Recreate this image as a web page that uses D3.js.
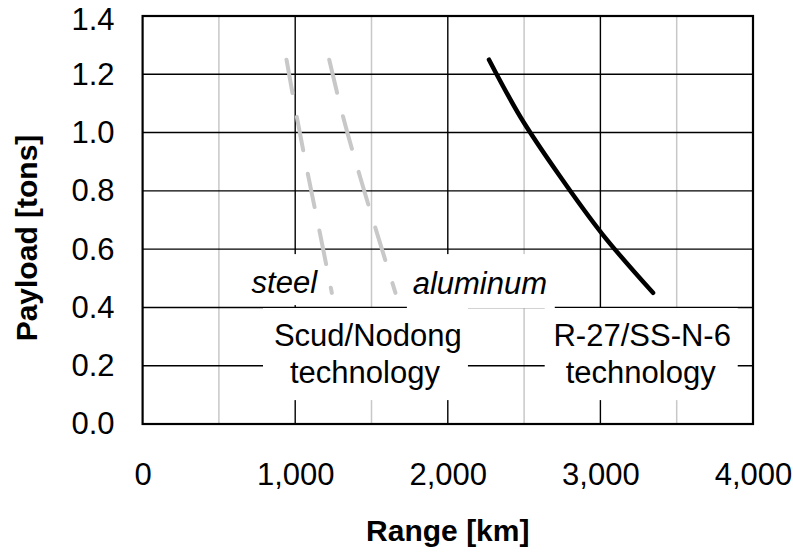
<!DOCTYPE html>
<html>
<head>
<meta charset="utf-8">
<script src="https://cdn.jsdelivr.net/npm/d3@7.9.0/dist/d3.min.js"></script>
<style>
  body { margin: 0; background: #fff; }
  text { font-family: "Liberation Sans", Arial, sans-serif; fill: #000; }
</style>
</head>
<body>
<div id="chart"></div>
<script>
// payload levels [tons] shared by all three curves
const payload = [1.25, 1.05, 0.85, 0.65, 0.45];
// range [km] at each payload
const steelRange = [943, 1012, 1086, 1164, 1240];
const aluminumRange = [1223, 1316, 1424, 1539, 1657];
const r27Range = [2270, 2480, 2735, 3015, 3345];

const xTicks = [0, 1000, 2000, 3000, 4000];
const xMinor = [500, 1500, 2500, 3500];
const yTicks = [0, 0.2, 0.4, 0.6, 0.8, 1.0, 1.2, 1.4];

const width = 793;
const height = 558;
const margin = { top: 16, right: 40, bottom: 134, left: 142.6 };

const svg = d3.select("#chart")
  .append("svg")
  .attr("width", width)
  .attr("height", height);

const x = d3.scaleLinear()
  .domain([0, 4000])
  .range([margin.left, width - margin.right]);

const y = d3.scaleLinear()
  .domain([0, 1.4])
  .range([height - margin.bottom, margin.top]);

// grid: light vertical lines at the half thousands, black ones elsewhere
svg.append("g")
  .selectAll("line")
  .data(xMinor)
  .join("line")
  .attr("x1", d => x(d)).attr("x2", d => x(d))
  .attr("y1", y(0)).attr("y2", y(1.4))
  .attr("stroke", "#c8c8c8")
  .attr("stroke-width", 1.5);

svg.append("g")
  .selectAll("line")
  .data(xTicks.slice(1, -1))
  .join("line")
  .attr("x1", d => x(d)).attr("x2", d => x(d))
  .attr("y1", y(0)).attr("y2", y(1.4))
  .attr("stroke", "#000")
  .attr("stroke-width", 1.4);

svg.append("g")
  .selectAll("line")
  .data(yTicks.slice(1, -1))
  .join("line")
  .attr("x1", x(0)).attr("x2", x(4000))
  .attr("y1", d => y(d)).attr("y2", d => y(d))
  .attr("stroke", "#000")
  .attr("stroke-width", 1.4);

svg.append("rect")
  .attr("x", x(0))
  .attr("y", y(1.4))
  .attr("width", x(4000) - x(0))
  .attr("height", y(0) - y(1.4))
  .attr("fill", "none")
  .attr("stroke", "#000")
  .attr("stroke-width", 2.2);

// label boxes (white, they hide the grid behind them), in data units
const boxes = [
  { x0: 658, x1: 1201, y0: 0.408, y1: 0.583 },   // steel
  { x0: 1732, x1: 2701, y0: 0.397, y1: 0.583 },  // aluminum
  { x0: 789, x1: 2132, y0: 0.082, y1: 0.398 },   // Scud/Nodong
  { x0: 2635, x1: 3900, y0: 0.082, y1: 0.398 }   // R-27
];

svg.append("g")
  .selectAll("rect")
  .data(boxes)
  .join("rect")
  .attr("x", d => x(d.x0))
  .attr("y", d => y(d.y1))
  .attr("width", d => x(d.x1) - x(d.x0))
  .attr("height", d => y(d.y0) - y(d.y1))
  .attr("fill", "#fff");

// curves
const line = d3.line()
  .x(d => x(d[0]))
  .y(d => y(d[1]))
  .curve(d3.curveCatmullRom.alpha(0.5));

const series = [
  { range: steelRange, color: "#c8c8c8", width: 4, dash: "34 24" },
  { range: aluminumRange, color: "#c8c8c8", width: 4, dash: "34 24" },
  { range: r27Range, color: "#000", width: 4.5, dash: null }
];

series.forEach(s => {
  svg.append("path")
    .datum(s.range.map((r, i) => [r, payload[i]]))
    .attr("d", line)
    .attr("fill", "none")
    .attr("stroke", s.color)
    .attr("stroke-width", s.width)
    .attr("stroke-linecap", "round")
    .attr("stroke-dasharray", s.dash);
});

// axes
const xAxis = svg.append("g")
  .attr("transform", `translate(0, ${y(0)})`)
  .call(d3.axisBottom(x).tickValues(xTicks).tickFormat(d3.format(",")).tickSize(0).tickPadding(39));

const yAxis = svg.append("g")
  .attr("transform", `translate(${x(0)}, 0)`)
  .call(d3.axisLeft(y).tickValues(yTicks).tickFormat(d3.format(".1f")).tickSize(0).tickPadding(28));

[xAxis, yAxis].forEach(a => {
  a.select(".domain").remove();
  a.selectAll("text")
    .attr("fill", "#000")
    .style("font-family", "'Liberation Sans', Arial, sans-serif")
    .style("font-size", "31px");
});

// top label sits a little lower in the original, keeps it inside the page
yAxis.selectAll(".tick text")
  .filter(d => d === 1.4)
  .attr("dy", "0.45em");

// axis titles
svg.append("text")
  .attr("x", x(2000))
  .attr("y", 541)
  .attr("text-anchor", "middle")
  .style("font-size", "30px")
  .style("font-weight", "bold")
  .text("Range [km]");

svg.append("text")
  .attr("transform", `translate(37, 238) rotate(-90)`)
  .attr("text-anchor", "middle")
  .style("font-size", "30px")
  .style("font-weight", "bold")
  .text("Payload [tons]");

// annotations
const notes = [
  { text: "steel", x: 929, y: 0.4495, italic: true },
  { text: "aluminum", x: 2210, y: 0.446, italic: true },
  { text: "Scud/Nodong", x: 1476, y: 0.2676 },
  { text: "technology", x: 1457, y: 0.1407 },
  { text: "R-27/SS-N-6", x: 3274, y: 0.2676 },
  { text: "technology", x: 3264, y: 0.1407 }
];

svg.append("g")
  .selectAll("text")
  .data(notes)
  .join("text")
  .attr("x", d => x(d.x))
  .attr("y", d => y(d.y))
  .attr("text-anchor", "middle")
  .style("font-size", "31px")
  .style("font-style", d => d.italic ? "italic" : "normal")
  .text(d => d.text);
</script>
</body>
</html>
